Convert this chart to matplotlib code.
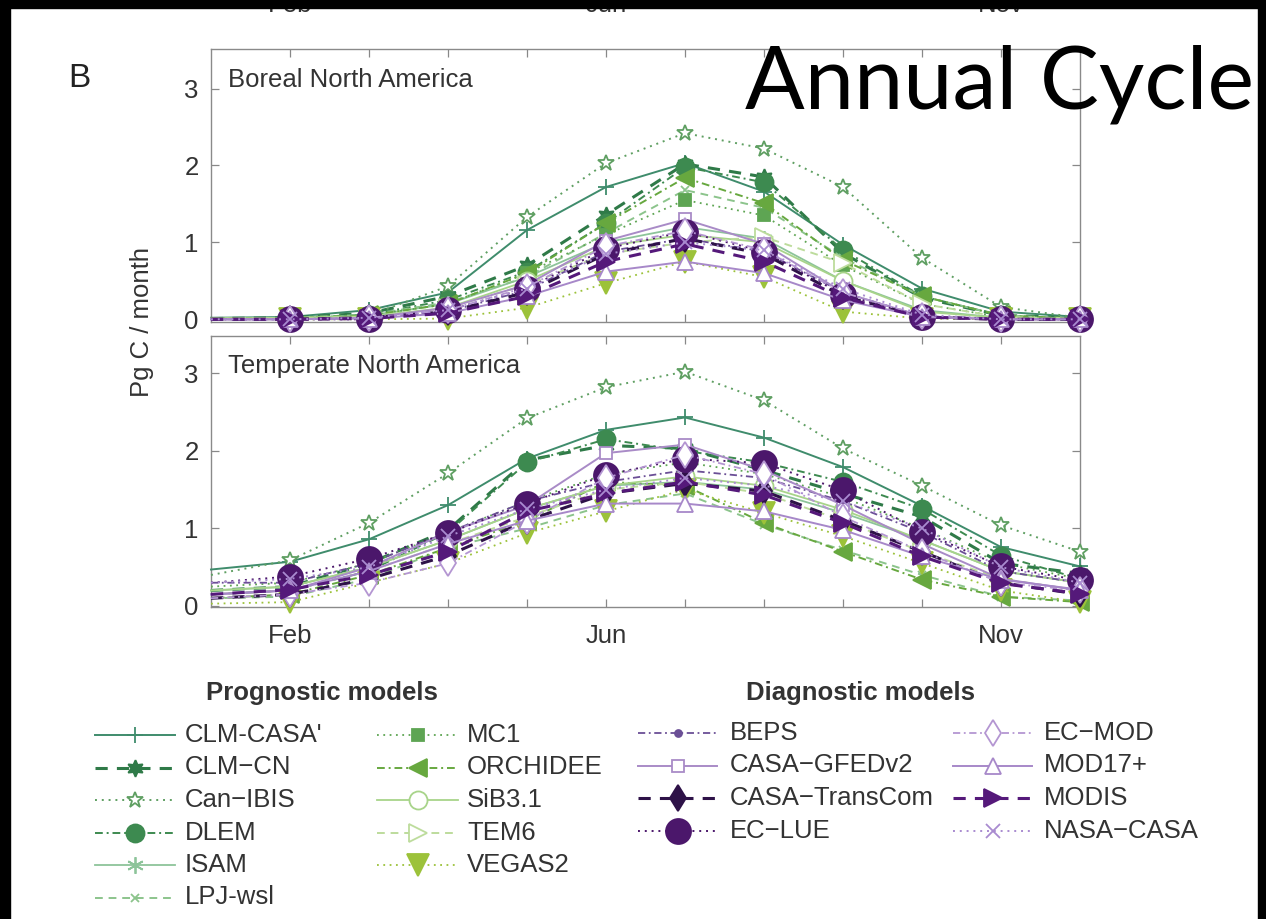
import matplotlib
matplotlib.use("Agg")
import matplotlib.pyplot as plt
from matplotlib.patches import Rectangle

W, H = 1266, 919
months = [1, 2, 3, 4, 5, 6, 7, 8, 9, 10, 11, 12]
tick_pos = [2, 3, 4, 5, 6, 7, 8, 9, 10, 11]
tick_lab = ["Feb", "", "", "", "Jun", "", "", "", "", "Nov"]
yticks = [0, 1, 2, 3]

regions = ["Boreal North America", "Temperate North America"]

prog_names = ["CLM-CASA'", "CLM\u2212CN", "Can\u2212IBIS", "DLEM", "ISAM", "LPJ-wsl",
              "MC1", "ORCHIDEE", "SiB3.1", "TEM6", "VEGAS2"]
diag_names = ["BEPS", "CASA\u2212GFEDv2", "CASA\u2212TransCom", "EC\u2212LUE",
              "EC\u2212MOD", "MOD17+", "MODIS", "NASA\u2212CASA"]

# Boreal North America (Pg C / month), Jan..Dec
boreal_prog = [
    [0.02, 0.03, 0.12, 0.35, 1.16, 1.72, 2.03, 1.66, 0.97, 0.40, 0.10, 0.03],  # CLM-CASA'
    [0.01, 0.02, 0.08, 0.30, 0.70, 1.36, 2.02, 1.85, 0.86, 0.28, 0.05, 0.02],  # CLM-CN
    [0.01, 0.01, 0.05, 0.43, 1.33, 2.03, 2.42, 2.22, 1.72, 0.80, 0.16, 0.02],  # Can-IBIS
    [0.01, 0.02, 0.06, 0.25, 0.62, 1.25, 1.98, 1.78, 0.90, 0.30, 0.05, 0.01],  # DLEM
    [0.01, 0.02, 0.05, 0.20, 0.55, 1.00, 1.20, 1.05, 0.50, 0.12, 0.02, 0.01],  # ISAM
    [0.01, 0.02, 0.06, 0.22, 0.55, 1.12, 1.68, 1.45, 0.80, 0.30, 0.05, 0.01],  # LPJ-wsl
    [0.01, 0.02, 0.05, 0.20, 0.60, 1.10, 1.55, 1.35, 0.70, 0.20, 0.03, 0.01],  # MC1
    [0.01, 0.02, 0.05, 0.20, 0.60, 1.25, 1.84, 1.51, 0.77, 0.30, 0.05, 0.01],  # ORCHIDEE
    [0.01, 0.02, 0.04, 0.15, 0.50, 0.95, 1.10, 1.00, 0.50, 0.10, 0.02, 0.01],  # SiB3.1
    [0.01, 0.01, 0.03, 0.15, 0.45, 0.85, 1.00, 1.07, 0.73, 0.20, 0.03, 0.01],  # TEM6
    [0.00, 0.00, 0.00, 0.01, 0.15, 0.47, 0.75, 0.55, 0.10, 0.01, 0.00, 0.00],  # VEGAS2
]
boreal_diag = [
    [0.00, 0.00, 0.02, 0.10, 0.38, 0.88, 1.05, 0.88, 0.35, 0.04, 0.00, 0.00],  # BEPS
    [0.00, 0.00, 0.02, 0.15, 0.45, 1.02, 1.30, 0.98, 0.35, 0.04, 0.00, 0.00],  # CASA-GFEDv2
    [0.00, 0.00, 0.02, 0.10, 0.35, 0.85, 1.05, 0.85, 0.30, 0.03, 0.00, 0.00],  # CASA-TransCom
    [0.00, 0.00, 0.00, 0.12, 0.40, 0.92, 1.14, 0.88, 0.32, 0.03, 0.00, 0.00],  # EC-LUE
    [0.00, 0.00, 0.02, 0.12, 0.42, 0.95, 1.15, 0.90, 0.35, 0.04, 0.00, 0.00],  # EC-MOD
    [0.00, 0.00, 0.01, 0.08, 0.30, 0.62, 0.75, 0.60, 0.25, 0.03, 0.00, 0.00],  # MOD17+
    [0.00, 0.00, 0.01, 0.08, 0.30, 0.75, 0.98, 0.75, 0.28, 0.03, 0.00, 0.00],  # MODIS
    [0.00, 0.00, 0.02, 0.12, 0.40, 0.85, 1.00, 0.90, 0.40, 0.06, 0.00, 0.00],  # NASA-CASA
]
# Temperate North America
temperate_prog = [
    [0.47, 0.57, 0.86, 1.30, 1.90, 2.27, 2.43, 2.17, 1.79, 1.29, 0.76, 0.51],  # CLM-CASA'
    [0.20, 0.25, 0.55, 0.98, 1.88, 2.07, 2.03, 1.75, 1.45, 1.15, 0.55, 0.42],  # CLM-CN
    [0.40, 0.59, 1.07, 1.71, 2.42, 2.82, 3.02, 2.65, 2.03, 1.55, 1.04, 0.70],  # Can-IBIS
    [0.15, 0.20, 0.45, 0.95, 1.85, 2.15, 2.00, 1.85, 1.60, 1.25, 0.65, 0.35],  # DLEM
    [0.20, 0.25, 0.50, 0.85, 1.25, 1.55, 1.60, 1.50, 1.20, 0.85, 0.45, 0.30],  # ISAM
    [0.10, 0.12, 0.35, 0.75, 1.00, 1.30, 1.45, 1.05, 0.72, 0.40, 0.12, 0.07],  # LPJ-wsl
    [0.25, 0.30, 0.55, 0.95, 1.35, 1.70, 1.85, 1.70, 1.40, 1.00, 0.55, 0.35],  # MC1
    [0.10, 0.15, 0.40, 0.75, 1.10, 1.60, 1.55, 1.07, 0.70, 0.34, 0.12, 0.05],  # ORCHIDEE
    [0.20, 0.25, 0.50, 0.85, 1.25, 1.55, 1.67, 1.55, 1.24, 0.85, 0.45, 0.30],  # SiB3.1
    [0.15, 0.20, 0.45, 0.80, 1.15, 1.50, 1.60, 1.45, 1.10, 0.70, 0.35, 0.20],  # TEM6
    [0.03, 0.05, 0.30, 0.55, 0.94, 1.22, 1.50, 1.20, 0.90, 0.55, 0.20, 0.05],  # VEGAS2
]
temperate_diag = [
    [0.30, 0.30, 0.55, 0.95, 1.35, 1.60, 1.75, 1.65, 1.35, 0.95, 0.45, 0.30],  # BEPS
    [0.15, 0.20, 0.50, 0.95, 1.30, 1.97, 2.08, 1.75, 1.30, 0.80, 0.35, 0.20],  # CASA-GFEDv2
    [0.10, 0.15, 0.35, 0.65, 1.10, 1.45, 1.58, 1.48, 1.10, 0.70, 0.30, 0.15],  # CASA-TransCom
    [0.30, 0.38, 0.61, 0.94, 1.32, 1.69, 1.90, 1.84, 1.49, 0.96, 0.51, 0.33],  # EC-LUE
    [0.10, 0.15, 0.30, 0.55, 1.10, 1.65, 1.95, 1.70, 1.15, 0.70, 0.30, 0.20],  # EC-MOD
    [0.15, 0.20, 0.45, 0.80, 1.10, 1.32, 1.32, 1.22, 0.98, 0.64, 0.34, 0.21],  # MOD17+
    [0.15, 0.21, 0.40, 0.70, 1.22, 1.45, 1.60, 1.43, 1.07, 0.64, 0.29, 0.16],  # MODIS
    [0.30, 0.35, 0.50, 0.90, 1.25, 1.50, 1.65, 1.55, 1.35, 1.00, 0.50, 0.30],  # NASA-CASA
]

# ---- styles ----
prog_colors = ["#3f8c6c", "#2f7a48", "#5f9f62", "#3d8a50", "#8dc49a", "#8cc48c",
               "#5ea553", "#67a83f", "#a8d48a", "#bddc9c", "#9cc23a"]
prog_ls = ["-", "--", ":", "-.", "-", "--", ":", "-.", "-", "--", ":"]
prog_mk = ["+", (6, 1, 0), "*", "o", (6, 2, 0), "x", "s", "<", "o", ">", "v"]
prog_open = [False, False, True, False, False, False, False, False, True, True, False]
prog_ms = [11, 12, 12, 13, 12, 6, 9, 13, 13, 13, 16]
prog_lw = [1.4, 2.2, 1.4, 1.4, 1.3, 1.4, 1.3, 1.4, 1.3, 1.4, 1.3]

diag_colors = ["#6b4f96", "#a98bc7", "#2e1248", "#4b176b", "#b496d2", "#a788c9",
               "#55197a", "#a98bd0"]
diag_ls = ["-.", "-", "--", ":", "-.", "-", "--", ":"]
diag_mk = ["o", "s", "d", "o", "d", "^", ">", "x"]
diag_open = [False, True, False, False, True, True, False, False]
diag_ms = [5, 9, 13, 18, 13, 12, 13, 10]
diag_lw = [1.3, 1.4, 2.2, 1.4, 1.3, 1.4, 2.2, 1.4]

dashes = {"-": None, "--": (4, 3), ":": (1, 2.5), "-.": (4, 2, 1, 2)}

FS = 18.5
plt.rcParams["font.family"] = ["Liberation Sans", "DejaVu Sans"]

fig = plt.figure(figsize=(W / 100, H / 100), dpi=100)
fig.patch.set_facecolor("white")


def fx(x):
    return x / W


def fy(y):
    return 1 - y / H


def style_kw(color, ls, mk, is_open, ms, lw):
    kw = dict(color=color, lw=lw, marker=mk, markersize=ms,
              markeredgecolor=color, markerfacecolor=("white" if is_open else color),
              markeredgewidth=1.3)
    if dashes[ls] is None:
        kw["linestyle"] = "-"
    else:
        kw["linestyle"] = (0, dashes[ls])
    return kw


ax_boxes = [(211, 49.3, 1080, 322), (211, 336, 1080, 607)]
ylims = [(-0.035, 3.51), (-0.013, 3.48)]
data_sets = [(boreal_prog, boreal_diag), (temperate_prog, temperate_diag)]
title_y = [80, 366]

axes = []
for i in range(2):
    l, t, r, b = ax_boxes[i]
    ax = fig.add_axes([fx(l), fy(b), fx(r) - fx(l), (b - t) / H])
    axes.append(ax)
    progs, diags = data_sets[i]
    for j, vals in enumerate(progs):
        ax.plot(months, vals, clip_on=False, markevery=slice(1, None), zorder=3,
                **style_kw(prog_colors[j], prog_ls[j], prog_mk[j], prog_open[j],
                           prog_ms[j], prog_lw[j]))
    for j, vals in enumerate(diags):
        ax.plot(months, vals, clip_on=False, markevery=slice(1, None), zorder=4,
                **style_kw(diag_colors[j], diag_ls[j], diag_mk[j], diag_open[j],
                           diag_ms[j], diag_lw[j]))
    ax.set_xlim(1, 12)
    ax.set_ylim(*ylims[i])
    ax.set_xticks(tick_pos)
    ax.set_yticks(yticks)
    ax.set_yticklabels([str(v) for v in yticks])
    if i == 1:
        ax.set_xticklabels(tick_lab)
    else:
        ax.set_xticklabels([])
    ax.tick_params(direction="in", length=6, width=0.9, colors="#888888",
                   labelcolor="#333333", labelsize=FS, top=True, right=True, pad=9)
    ax.tick_params(axis="x", pad=12)
    for s in ax.spines.values():
        s.set_color("#8a8a8a")
        s.set_linewidth(1.0)
    ax.text(0.019, 1 - (title_y[i] - t) / (b - t), regions[i], transform=ax.transAxes,
            fontsize=FS, color="#333333", va="center", ha="left")

fig.text(fx(142), fy(322), "Pg C / month", rotation=90, fontsize=FS, color="#333333",
         ha="center", va="center")
fig.text(fx(68), fy(87), "B", fontsize=24, color="#222222", ha="left", va="baseline")

# ---- legend (drawn on an overlay axis in pixel coordinates) ----
lg = fig.add_axes([0, 0, 1, 1])
lg.set_xlim(0, W)
lg.set_ylim(H, 0)
lg.axis("off")
lg.patch.set_alpha(0)

lg.text(322, 693, "Prognostic models", fontsize=FS, fontweight="bold", color="#333333",
        ha="center", va="center")
lg.text(861, 693, "Diagnostic models", fontsize=FS, fontweight="bold", color="#333333",
        ha="center", va="center")

row0, drow = 735, 32.5
prog_cols = [(95, 175, 185), (377, 458, 467)]
for j, name in enumerate(prog_names):
    c, rr = divmod(j, 6)
    x0, x1, xt = prog_cols[c]
    y = row0 + rr * drow
    kw = style_kw(prog_colors[j], prog_ls[j], prog_mk[j], prog_open[j], prog_ms[j], prog_lw[j])
    lg.plot([x0, (x0 + x1) / 2, x1], [y, y, y], markevery=[1], **kw)
    lg.text(xt, y, name, fontsize=FS, color="#333333", ha="left", va="center")

diag_cols = [(638, 717, 730), (953, 1032, 1044)]
for j, name in enumerate(diag_names):
    c, rr = divmod(j, 4)
    x0, x1, xt = diag_cols[c]
    y = row0 - 2 + rr * drow
    kw = style_kw(diag_colors[j], diag_ls[j], diag_mk[j], diag_open[j], diag_ms[j], diag_lw[j])
    lg.plot([x0, (x0 + x1) / 2, x1], [y, y, y], markevery=[1], **kw)
    lg.text(xt, y, name, fontsize=FS, color="#333333", ha="left", va="center")

# cut-off tick labels of the panel above (hidden mostly behind the slide border)
for xm, lab in [(2, "Feb"), (6, "Jun"), (11, "Nov")]:
    xp = 211 + (xm - 1) * (1080 - 211) / 11
    lg.text(xp, 12, lab, fontsize=FS, color="#333333", ha="center", va="baseline")

# slide title
lg.text(745, 108, "Annual Cycle", fontsize=63.5, color="black", ha="left", va="baseline",
        family=["Lato", "DejaVu Sans"], zorder=10)

# black slide borders
lg.add_patch(Rectangle((0, 0), W, 8, color="black", zorder=20))
lg.add_patch(Rectangle((0, 0), 10, H, color="black", zorder=20))
lg.add_patch(Rectangle((1258, 0), 8, H, color="black", zorder=20))

fig.savefig("out.png", dpi=100, facecolor="white")
